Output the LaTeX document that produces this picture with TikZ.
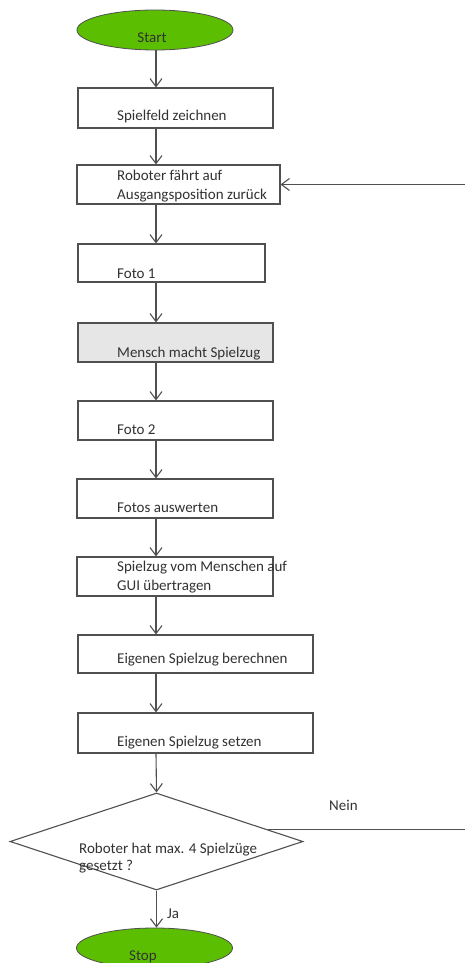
\documentclass[tikz,border=0pt]{standalone}
\usepackage{fontspec}
\setmainfont{Carlito}
\usetikzlibrary{arrows.meta,shapes.geometric}
\definecolor{linegray}{RGB}{80,80,80}
\definecolor{textgray}{RGB}{50,50,50}
\definecolor{termgreen}{RGB}{92,190,0}
\definecolor{boxgray}{RGB}{230,230,230}

\begin{document}
\begin{tikzpicture}[x=1pt,y=1pt]
\tikzstyle{every node}=[inner sep=0pt, text=textgray, font=\fontsize{15}{19}\selectfont]
\tikzstyle{box}=[draw=linegray, line width=1.1pt, rectangle]
\tikzstyle{term}=[draw=linegray, line width=0.8pt, ellipse, fill=termgreen, minimum width=156pt, minimum height=40pt]
\tikzstyle{txt}=[anchor=base west, align=left]
\tikzstyle{flow}=[draw=linegray, line width=1.1pt, -{Straight Barb[length=8pt,width=12pt]}]
\fill[white] (0,0) rectangle (464,-963);
\useasboundingbox (0,0) rectangle (464,-963);
\coordinate (axis) at (156,0);
\coordinate (edge) at (470,0);
% boxes
\node (b0) [term] at (155,-30) {};
\node (b1) [box, minimum width=195pt, minimum height=40pt] at (175.5,-108) {};
\node (b2) [box, minimum width=203pt, minimum height=39pt] at (178.5,-184.5) {};
\node (b3) [box, minimum width=187pt, minimum height=38pt] at (171.5,-263) {};
\node (b4) [box, fill=boxgray, minimum width=195pt, minimum height=39pt] at (175.5,-342.5) {};
\node (b5) [box, minimum width=195pt, minimum height=39pt] at (175.5,-420.5) {};
\node (b6) [box, minimum width=196pt, minimum height=39pt] at (175,-498.5) {};
\node (b7) [box, minimum width=196pt, minimum height=39pt] at (175,-576.5) {};
\node (b8) [box, minimum width=235pt, minimum height=38pt] at (195.5,-654) {};
\node (b9) [box, minimum width=235pt, minimum height=40pt] at (195.5,-733) {};
\node (dia) [draw=linegray, line width=1.1pt, diamond, minimum width=293pt, minimum height=97pt] at (156.5,-841.5) {};
\node (b10) [term] at (154.5,-948) {};
% texts
\node (t0) [anchor=base] at (152,-43) {Start};
\node (t1) [txt] at (117,-121) {Spielfeld zeichnen};
\node (t2) [txt] at (117,-199) {Roboter fährt auf\\Ausgangsposition zurück};
\node (t3) [txt] at (117,-278) {Foto 1};
\node (t4) [txt] at (117,-357) {Mensch macht Spielzug};
\node (t5) [txt] at (117,-434) {Foto 2};
\node (t6) [txt] at (117,-512) {Fotos auswerten};
\node (t7) [txt] at (117,-590) {Spielzug vom Menschen auf\\GUI übertragen};
\node (t8) [txt] at (117,-663) {Eigenen Spielzug berechnen};
\node (t9) [txt] at (117,-746) {Eigenen Spielzug setzen};
\node (td) [txt, font=\fontsize{15}{17}\selectfont] at (79,-870) {Roboter hat max. 4 Spielzüge\\gesetzt ?};
\node (tn) [txt] at (329,-810) {Nein};
\node (tj) [txt] at (167,-918) {Ja};
\node (t10) [anchor=base] at (143,-960) {Stop};
% arrows
\draw[flow] (b0.south -| axis) -- (b1.north -| axis);
\draw[flow] (b1.south -| axis) -- (b2.north -| axis);
\draw[flow] (b2.south -| axis) -- (b3.north -| axis);
\draw[flow] (b3.south -| axis) -- (b4.north -| axis);
\draw[flow] (b4.south -| axis) -- (b5.north -| axis);
\draw[flow] (b5.south -| axis) -- (b6.north -| axis);
\draw[flow] (b6.south -| axis) -- (b7.north -| axis);
\draw[flow] (b7.south -| axis) -- (b8.north -| axis);
\draw[flow] (b8.south -| axis) -- (b9.north -| axis);
\draw[flow] (b9.south -| axis) -- (dia.north);
\draw[flow] (dia.south) -- (b10.north -| dia.south);
\draw[flow] (dia.6) -- (dia.6 -| edge) |- (b2.east);
\end{tikzpicture}
\end{document}
